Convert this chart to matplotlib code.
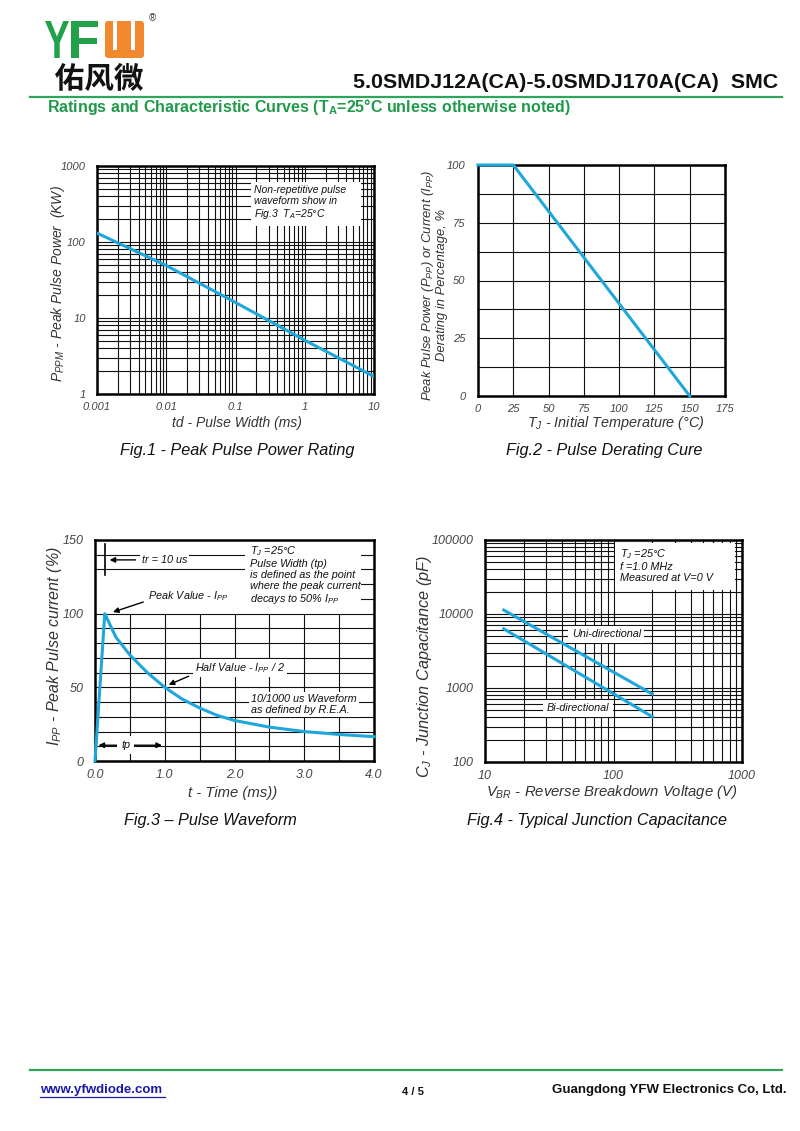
import numpy as np
import matplotlib
matplotlib.use('Agg')
import matplotlib.pyplot as plt
from matplotlib.ticker import LogLocator, NullFormatter, MultipleLocator
from matplotlib.patches import Rectangle, FancyBboxPatch, PathPatch
from matplotlib.textpath import TextPath
from matplotlib.font_manager import FontProperties
from matplotlib.transforms import Affine2D

plt.rcParams['font.family'] = ['Liberation Sans', 'DejaVu Sans']
plt.rcParams['mathtext.fontset'] = 'custom'
plt.rcParams['mathtext.it'] = 'Liberation Sans:italic'
plt.rcParams['mathtext.rm'] = 'Liberation Sans'
plt.rcParams['mathtext.bf'] = 'Liberation Sans:bold'

# fig.1 peak pulse power vs pulse width
pw_ms = [0.001, 0.01, 0.1, 1, 10]
ppk_kw = [131, 49, 16, 5.1, 1.7]
fig1_xticks = [0.001, 0.01, 0.1, 1, 10]
fig1_xlabels = ["0.001", "0.01", "0.1", "1", "10"]
fig1_yticks = [1, 10, 100, 1000]
fig1_ylabels = ["1", "10", "100", "1000"]

# fig.2 derating curve
temp_c = [0, 25, 150]
derating_pct = [100, 100, 0]
fig2_xticks = [0, 25, 50, 75, 100, 125, 150, 175]
fig2_yticks = [0, 25, 50, 75, 100]

# fig.3 pulse waveform
t_ms = [0, 0.14, 0.3, 0.5, 0.75, 1.0, 1.25, 1.5, 1.75, 2.0, 2.5, 3.0, 3.5, 4.0]
ipp_pct = [0, 100, 84, 72, 60, 50, 42, 36, 31, 27.5, 23, 20, 18, 16.5]
fig3_xticks = [0, 1, 2, 3, 4]
fig3_xlabels = ["0.0", "1.0", "2.0", "3.0", "4.0"]
fig3_yticks = [0, 50, 100, 150]

# fig.4 junction capacitance
vbr_uni = [14, 200]
cj_uni = [11300, 830]
vbr_bi = [14, 200]
cj_bi = [6300, 410]
fig4_xticks = [10, 100, 1000]
fig4_xlabels = ["10", "100", "1000"]
fig4_yticks = [100, 1000, 10000, 100000]
fig4_ylabels = ["100", "1000", "10000", "100000"]

BLUE = '#1ea7dc'
GREEN = '#1f9a4a'
LINEGREEN = '#2ea55a'
TXT = '#333333'
TICK = '#444444'

W, H = 800, 1131
fig = plt.figure(figsize=(8, 11.31), dpi=100)


def rect(l, t, r, b):
    return [l / W, 1 - b / H, (r - l) / W, (b - t) / H]


def style(ax, size=8, xpad=6, ypad=8):
    for s in ax.spines.values():
        s.set_linewidth(1.8)
        s.set_color('black')
    ax.tick_params(which='both', length=0, labelcolor=TICK, labelsize=size)
    ax.tick_params(axis='x', pad=xpad)
    ax.tick_params(axis='y', pad=ypad)
    for lab in ax.get_xticklabels() + ax.get_yticklabels():
        lab.set_fontstyle('italic')


def log_minor(axis):
    axis.set_minor_locator(LogLocator(base=10, subs=np.arange(2, 10)))
    axis.set_minor_formatter(NullFormatter())


gkw = dict(color='#111111', lw=0.8)

# ---- fig 1
ax1 = fig.add_axes(rect(97, 166, 374, 394))
ax1.set_xscale('log')
ax1.set_yscale('log')
ax1.set_xlim(0.001, 10)
ax1.set_ylim(1, 1000)
ax1.set_xticks(fig1_xticks)
ax1.set_xticklabels(fig1_xlabels)
ax1.set_yticks(fig1_yticks)
ax1.set_yticklabels(fig1_ylabels)
log_minor(ax1.xaxis)
log_minor(ax1.yaxis)
ax1.grid(True, which='both', **gkw)
ax1.plot(pw_ms, ppk_kw, color=BLUE, lw=2.2, zorder=4)
ax1.add_patch(Rectangle((0.167, 164), 6.5 - 0.167, 615 - 164, fc='white', ec='none', zorder=2.5))
ax1.text(0.188, 327, "Non-repetitive pulse\nwaveform show in\nFig.3  $T_A$=25°C", fontsize=7.5,
         style='italic', ha='left', va='center', color='#111', linespacing=1.15, zorder=3)
style(ax1, size=8, xpad=6, ypad=8)

# ---- fig 2
ax2 = fig.add_axes(rect(478, 165, 725, 396))
ax2.set_xlim(0, 175)
ax2.set_ylim(0, 100)
ax2.set_xticks(fig2_xticks)
ax2.set_yticks(fig2_yticks)
ax2.yaxis.set_minor_locator(MultipleLocator(12.5))
ax2.grid(True, which='both', **gkw)
ax2.plot(temp_c, derating_pct, color=BLUE, lw=2.2, zorder=4, clip_on=False)
style(ax2, size=8, xpad=6, ypad=9)

# ---- fig 3
ax3 = fig.add_axes(rect(95, 540, 374, 761))
ax3.set_xlim(0, 4)
ax3.set_ylim(0, 150)
ax3.set_xticks(fig3_xticks)
ax3.set_xticklabels(fig3_xlabels)
ax3.set_yticks(fig3_yticks)
ax3.yaxis.set_minor_locator(MultipleLocator(10))
ax3.grid(True, axis='y', which='both', **gkw)
ax3.vlines(np.arange(0.5, 4.0, 0.5), 0, 100, **gkw)
ax3.plot(t_ms, ipp_pct, color=BLUE, lw=2.2, zorder=4, clip_on=False)
ax3.add_patch(Rectangle((0.02, 104), 2.13, 22, fc='white', ec='none', zorder=2.5))
ax3.add_patch(Rectangle((2.15, 103), 1.67, 45.5, fc='white', ec='none', zorder=2.5))
akw = dict(arrowstyle='-|>', color='black', lw=1.0, mutation_scale=8)
tkw = dict(fontsize=7.8, style='italic', color='#111', zorder=5)
wb = dict(fc='white', ec='none', pad=1.5)
ax3.plot([0.15, 0.15], [126, 147], color='black', lw=1.2, zorder=5)
ax3.annotate('', xy=(0.17, 136.5), xytext=(0.62, 136.5), arrowprops=akw, zorder=5)
ax3.text(0.67, 136.5, "tr = 10 us", ha='left', va='center', bbox=wb, **tkw)
ax3.annotate('', xy=(0.22, 100.5), xytext=(0.73, 108.5), arrowprops=akw, zorder=5)
ax3.text(0.76, 112, "Peak Value - $I_{PP}$", ha='left', va='center', bbox=wb, **tkw)
ax3.annotate('', xy=(1.02, 51), xytext=(1.38, 58.3), arrowprops=akw, zorder=5)
ax3.text(1.43, 63.3, "Half Value - $I_{PP}$ / 2", ha='left', va='center', bbox=wb, **tkw)
ax3.text(2.22, 126, "$T_J$ =25°C\nPulse Width (tp)\nis defined as the point\nwhere the peak current\ndecays to 50% $I_{PP}$",
         ha='left', va='center', linespacing=1.12, **tkw)
ax3.text(2.24, 38.2, "10/1000 us Waveform\nas defined by R.E.A.", ha='left', va='center',
         linespacing=1.12, bbox=wb, **tkw)
ax3.annotate('', xy=(0.01, 10.7), xytext=(1.0, 10.7),
             arrowprops=dict(arrowstyle='<|-|>', color='black', lw=1.0, mutation_scale=8), zorder=5)
ax3.text(0.44, 10.7, "tp", ha='center', va='center', bbox=dict(fc='white', ec='none', pad=3), **tkw)
style(ax3, size=9, xpad=6, ypad=8)

# ---- fig 4
ax4 = fig.add_axes(rect(485, 540, 742, 762))
ax4.set_xscale('log')
ax4.set_yscale('log')
ax4.set_xlim(10, 1000)
ax4.set_ylim(100, 100000)
ax4.set_xticks(fig4_xticks)
ax4.set_xticklabels(fig4_xlabels)
ax4.set_yticks(fig4_yticks)
ax4.set_yticklabels(fig4_ylabels)
log_minor(ax4.xaxis)
log_minor(ax4.yaxis)
ax4.grid(True, which='both', **gkw)
ax4.plot(vbr_uni, cj_uni, color=BLUE, lw=2.2, zorder=4)
ax4.plot(vbr_bi, cj_bi, color=BLUE, lw=2.2, zorder=4)
ax4.add_patch(Rectangle((102, 21100), 877 - 102, 90000 - 21100, fc='white', ec='none', zorder=2.5))
ax4.text(112, 45200, "$T_J$ =25°C\nf =1.0 MHz\nMeasured at V=0 V", ha='left', va='center',
         linespacing=1.12, **tkw)
ax4.text(88, 5360, "Uni-directional", ha='center', va='center', bbox=dict(fc='white', ec='none', pad=2.5), **tkw)
ax4.text(53, 530, "Bi-directional", ha='center', va='center', bbox=dict(fc='white', ec='none', pad=2.5), **tkw)
style(ax4, size=9, xpad=6, ypad=8)

# ---- page overlay: header, labels, captions, footer
ov = fig.add_axes([0, 0, 1, 1], zorder=-1)
ov.set_xlim(0, W)
ov.set_ylim(H, 0)
ov.axis('off')


def path_text(s, x, y_base, w, h, color, fp):
    tp = TextPath((0, 0), s, prop=fp, size=1)
    bb = tp.get_extents()
    tr = Affine2D().translate(-bb.x0, -bb.y0).scale(w / bb.width, -h / bb.height).translate(x, y_base)
    ov.add_patch(PathPatch(tr.transform_path(tp), fc=color, ec='none'))


bold = FontProperties(family='Liberation Sans', weight='bold')
path_text("Y", 45, 58, 24, 37, '#23a04a', bold)
path_text("F", 71, 58, 27, 37, '#23a04a', bold)
ov.add_patch(FancyBboxPatch((105, 21), 39, 37, boxstyle='round,pad=0,rounding_size=3', fc='#f0882e', ec='none'))
ov.add_patch(Rectangle((113, 21), 4, 29, fc='white', ec='none'))
ov.add_patch(Rectangle((131, 21), 4, 29, fc='white', ec='none'))
ov.text(152, 18, "®", fontsize=7, ha='center', va='center', color='#333')
path_text("佑风微", 55, 91, 88, 28, '#111111', FontProperties(family='Noto Sans CJK SC', weight='bold'))

ov.text(778, 83, "5.0SMDJ12A(CA)-5.0SMDJ170A(CA)  SMC", ha='right', va='center',
        fontsize=15.4, weight='bold', color='#111')
ov.plot([30, 782], [97, 97], color=LINEGREEN, lw=1.6)
ov.text(47, 107, r"Ratings and Characteristic Curves (T$_\mathbf{A}$=25°C unless otherwise noted)",
        ha='left', va='center', fontsize=11.5, weight='bold', color=GREEN)

lkw = dict(style='italic', color=TXT, ha='center', va='center')
ov.text(58, 284, "$P_{PPM}$ - Peak Pulse Power  (KW)", rotation=90, fontsize=10, **lkw)
ov.text(237, 423, "td - Pulse Width (ms)", fontsize=10, **lkw)
ov.text(434, 285, "Peak Pulse Power ($P_{PP}$) or Current ($I_{PP}$)\nDerating in Percentage, %",
        rotation=90, linespacing=1.05, multialignment='center', fontsize=9.4, **lkw)
ov.text(616, 423, "$T_J$ - Initial Temperature (°C)", fontsize=10.4, **lkw)
ov.text(55, 646, "$I_{PP}$ - Peak Pulse current (%)", rotation=90, fontsize=11.5, **lkw)
ov.text(233, 793, "t - Time (ms))", fontsize=10.7, **lkw)
ov.text(424, 666, "$C_J$ - Junction Capacitance (pF)", rotation=90, fontsize=11.7, **lkw)
ov.text(612, 792, "$V_{BR}$ - Reverse Breakdown Voltage (V)", fontsize=10.7, **lkw)

ckw = dict(fontsize=11.7, style='italic', color='#111', ha='center', va='center')
ov.text(237, 450, "Fig.1 - Peak Pulse Power Rating", **ckw)
ov.text(604, 450, "Fig.2 - Pulse Derating Cure", **ckw)
ov.text(210, 820, "Fig.3 – Pulse Waveform", **ckw)
ov.text(597, 820, "Fig.4 - Typical Junction Capacitance", **ckw)

ov.plot([30, 782], [1070, 1070], color=LINEGREEN, lw=1.6)
ov.text(40, 1090, "www.yfwdiode.com", ha='left', va='center', fontsize=9.5, weight='bold', color='#1a1aa8')
ov.plot([40, 165], [1097, 1097], color='#1a1aa8', lw=0.9)
ov.text(413, 1092, "4 / 5", ha='center', va='center', fontsize=8, weight='bold', color='#111')
ov.text(787, 1090, "Guangdong YFW Electronics Co, Ltd.", ha='right', va='center', fontsize=9.5,
        weight='bold', color='#111')

fig.savefig('out.png', dpi=100)
